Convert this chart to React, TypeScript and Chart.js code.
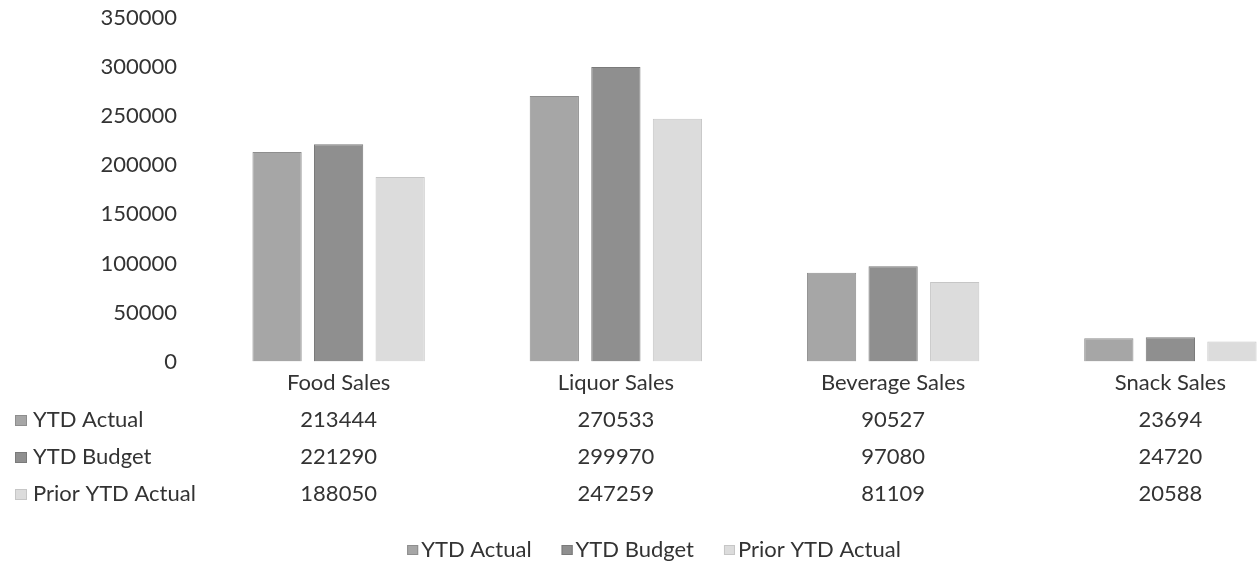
import React, { useEffect, useRef } from "react";
import { Chart, registerables } from "chart.js";

Chart.register(...registerables);

const categories = ["Food Sales", "Liquor Sales", "Beverage Sales", "Snack Sales"];
const seriesNames = ["YTD Actual", "YTD Budget", "Prior YTD Actual"];
const ytdActual = [213444, 270533, 90527, 23694];
const ytdBudget = [221290, 299970, 97080, 24720];
const priorYtdActual = [188050, 247259, 81109, 20588];
const yTicks = [0, 50000, 100000, 150000, 200000, 250000, 300000, 350000];

const fills = ["#a6a6a6", "#8f8f8f", "#dcdcdc"];
const borders = ["#8e8e8e", "#7a7a7a", "#c6c6c6"];
const textColor = "#333333";
const FONT = "Lato, 'Noto Sans', sans-serif";
const FS = 22;

const tablePlugin = {
  id: "dataTable",
  afterDraw(chart: any) {
    const ctx = chart.ctx;
    const x = chart.scales.x;
    const rows = [ytdActual, ytdBudget, priorYtdActual];
    const rowY = [420, 457, 494];
    ctx.save();
    ctx.font = `${FS}px ${FONT}`;
    ctx.textBaseline = "middle";
    rows.forEach((vals, r) => {
      ctx.fillStyle = fills[r];
      ctx.fillRect(15, rowY[r] - 5, 12, 11);
      ctx.strokeStyle = borders[r];
      ctx.lineWidth = 1;
      ctx.strokeRect(15.5, rowY[r] - 4.5, 11, 10);
      ctx.fillStyle = textColor;
      ctx.textAlign = "left";
      ctx.fillText(seriesNames[r], 33, rowY[r]);
      ctx.textAlign = "center";
      vals.forEach((v, i) => {
        ctx.fillText(String(v), x.getPixelForValue(i), rowY[r]);
      });
    });
    // legend
    const ly = 550;
    const boxW = 11;
    const gapBox = 3;
    const gapItem = 30;
    const widths = seriesNames.map((n) => ctx.measureText(n).width);
    const total =
      widths.reduce((a, b) => a + b, 0) + seriesNames.length * (boxW + gapBox) + gapItem * (seriesNames.length - 1);
    let cx = 654 - total / 2;
    ctx.textAlign = "left";
    seriesNames.forEach((n, i) => {
      ctx.fillStyle = fills[i];
      ctx.fillRect(cx, ly - 5, boxW, 10);
      ctx.strokeStyle = borders[i];
      ctx.strokeRect(cx + 0.5, ly - 4.5, boxW - 1, 9);
      cx += boxW + gapBox;
      ctx.fillStyle = textColor;
      ctx.fillText(n, cx, ly);
      cx += widths[i] + gapItem;
    });
    ctx.restore();
  },
};

export default function App() {
  const ref = useRef<HTMLCanvasElement | null>(null);
  useEffect(() => {
    if (!ref.current) return;
    const chart = new Chart(ref.current, {
      type: "bar",
      data: {
        labels: categories,
        datasets: [ytdActual, ytdBudget, priorYtdActual].map((d, i) => ({
          label: seriesNames[i],
          data: d,
          backgroundColor: fills[i],
          borderColor: borders[i],
          borderWidth: 1,
          categoryPercentage: 0.666,
          barPercentage: 0.8,
        })),
      },
      options: {
        animation: false,
        responsive: false,
        devicePixelRatio: 1,
        layout: { padding: { top: 18, right: 11, bottom: 159, left: 0 } },
        plugins: { legend: { display: false }, tooltip: { enabled: false } },
        scales: {
          x: {
            grid: { display: false, drawTicks: false },
            border: { display: false },
            ticks: { color: textColor, font: { family: FONT, size: FS }, padding: 8 },
          },
          y: {
            min: 0,
            max: 350000,
            grid: { display: false, drawTicks: false },
            border: { display: false },
            afterBuildTicks: (scale: any) => {
              scale.ticks = yTicks.map((v) => ({ value: v }));
            },
            afterFit: (scale: any) => {
              scale.width = 200;
              scale.paddingTop = 0;
              scale.paddingBottom = 0;
            },
            ticks: {
              color: textColor,
              font: { family: FONT, size: FS },
              padding: 23,
              callback: (v: any) => String(v),
            },
          },
        },
      },
      plugins: [tablePlugin],
    });
    return () => chart.destroy();
  }, []);
  return (
    <div style={{ position: "fixed", left: 0, top: 0, width: 1260, height: 563, overflow: "hidden", background: "#fff" }}>
      <canvas ref={ref} width={1320} height={563} style={{ position: "absolute", left: 0, top: 0 }} />
    </div>
  );
}
